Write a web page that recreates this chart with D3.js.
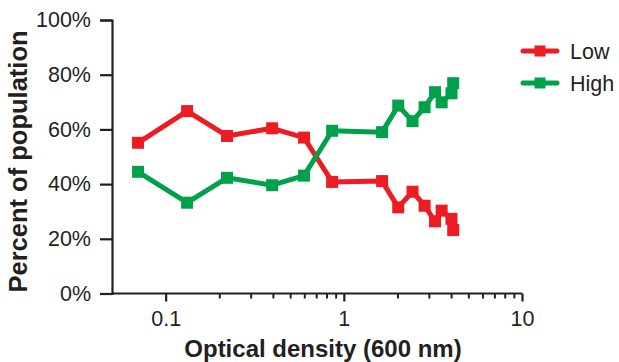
<!DOCTYPE html>
<html>
<head>
<meta charset="utf-8">
<script src="https://cdn.jsdelivr.net/npm/d3@7"></script>
<style>
  html, body { margin: 0; padding: 0; background: #fff; }
  svg { display: block; font-family: "Liberation Sans", Arial, Helvetica, sans-serif; }
  .tick-label { font-size: 21.5px; fill: #231f20; }
  .axis-title { font-weight: bold; fill: #231f20; }
  .legend-label { font-size: 21.5px; fill: #231f20; }
</style>
</head>
<body>
<svg id="chart"></svg>
<script>
const width = 619, height = 362;

// Optical density (600 nm) of each sample
const od = [0.07, 0.132, 0.221, 0.396, 0.598, 0.86, 1.64, 2.02, 2.43, 2.84, 3.25, 3.54, 4.02, 4.11];
// percent of population
const lowPct  = [55.1, 66.7, 57.6, 60.4, 57.0, 40.8, 41.1, 31.5, 37.2, 32.1, 26.4, 30.3, 27.3, 23.2];
const highPct = [44.5, 33.2, 42.3, 39.6, 43.1, 59.5, 59.0, 68.7, 63.0, 68.1, 73.6, 69.9, 73.2, 76.9];

const seriesNames = ['Low', 'High'];
const seriesColors = ['#ed1c24', '#00a14b'];
const yTicks = [0, 20, 40, 60, 80, 100];
const xMajor = [0.1, 1, 10];
const xMinor = [0.2, 0.3, 0.4, 0.5, 0.6, 0.7, 0.8, 0.9, 2, 3, 4, 5, 6, 7, 8, 9];

const svg = d3.select('#chart').attr('width', width).attr('height', height);

const x = d3.scaleLog().domain([0.05, 10]).range([112, 522]);
const y = d3.scaleLinear().domain([0, 100]).range([293.5, 20]);

const axisColor = '#231f20';

// y axis
const yAxis = d3.axisLeft(y).tickValues(yTicks).tickSize(12).tickPadding(9)
  .tickFormat(d => d + '%');
const gy = svg.append('g').attr('transform', `translate(${x.range()[0]},0)`).call(yAxis);
gy.select('.domain').attr('stroke', axisColor).attr('stroke-width', 2.2);
gy.selectAll('.tick line').attr('stroke', axisColor).attr('stroke-width', 2.2);
gy.selectAll('.tick text').attr('class', 'tick-label').attr('font-size', null).attr('font-family', null);

// x axis (log): major + minor ticks
const xAxisMinor = d3.axisBottom(x).tickValues(xMinor).tickSize(5).tickFormat('');
const gxm = svg.append('g').attr('transform', `translate(0,${y(0)})`).call(xAxisMinor);
gxm.select('.domain').remove();
gxm.selectAll('.tick line').attr('stroke', axisColor).attr('stroke-width', 2);

const xAxis = d3.axisBottom(x).tickValues(xMajor).tickSize(8).tickPadding(9)
  .tickFormat(d => d3.format('~g')(d));
const gx = svg.append('g').attr('transform', `translate(0,${y(0)})`).call(xAxis);
gx.select('.domain').attr('d', `M${x.range()[0]},0H${x.range()[1]}`)
  .attr('stroke', axisColor).attr('stroke-width', 2.2);
gx.selectAll('.tick line').attr('stroke', axisColor).attr('stroke-width', 2.2);
gx.selectAll('.tick text').attr('class', 'tick-label').attr('font-size', null).attr('font-family', null);

// axis titles
svg.append('text').attr('class', 'axis-title')
  .attr('x', 323).attr('y', 357).attr('text-anchor', 'middle')
  .style('font-size', '24px')
  .text('Optical density (600 nm)');
svg.append('text').attr('class', 'axis-title')
  .attr('transform', 'translate(27,161.5) rotate(-90)')
  .attr('text-anchor', 'middle')
  .style('font-size', '25.5px')
  .text('Percent of population');

// series
const series = [lowPct, highPct];
const line = d3.line().x((d, i) => x(od[i])).y(d => y(d));
const m = 12;

series.forEach((vals, k) => {
  const g = svg.append('g');
  g.append('path').datum(vals)
    .attr('d', line)
    .attr('fill', 'none')
    .attr('stroke', seriesColors[k])
    .attr('stroke-width', 5)
    .attr('stroke-linejoin', 'round');
  g.selectAll('rect').data(vals).enter().append('rect')
    .attr('x', (d, i) => x(od[i]) - m / 2)
    .attr('y', d => y(d) - m / 2)
    .attr('width', m).attr('height', m)
    .attr('fill', seriesColors[k]);
});

// legend
const legend = svg.append('g').attr('transform', 'translate(522,51)');
seriesNames.forEach((name, k) => {
  const g = legend.append('g').attr('transform', `translate(0,${k * 32})`);
  g.append('line').attr('x1', 1).attr('x2', 35).attr('y1', 0).attr('y2', 0)
    .attr('stroke', seriesColors[k]).attr('stroke-width', 5).attr('stroke-linecap', 'round');
  g.append('rect').attr('x', 18 - 5.5).attr('y', -5.5).attr('width', 11).attr('height', 11)
    .attr('fill', seriesColors[k]);
  g.append('text').attr('class', 'legend-label').attr('x', 48).attr('y', 7.5).text(name);
});
</script>
</body>
</html>
